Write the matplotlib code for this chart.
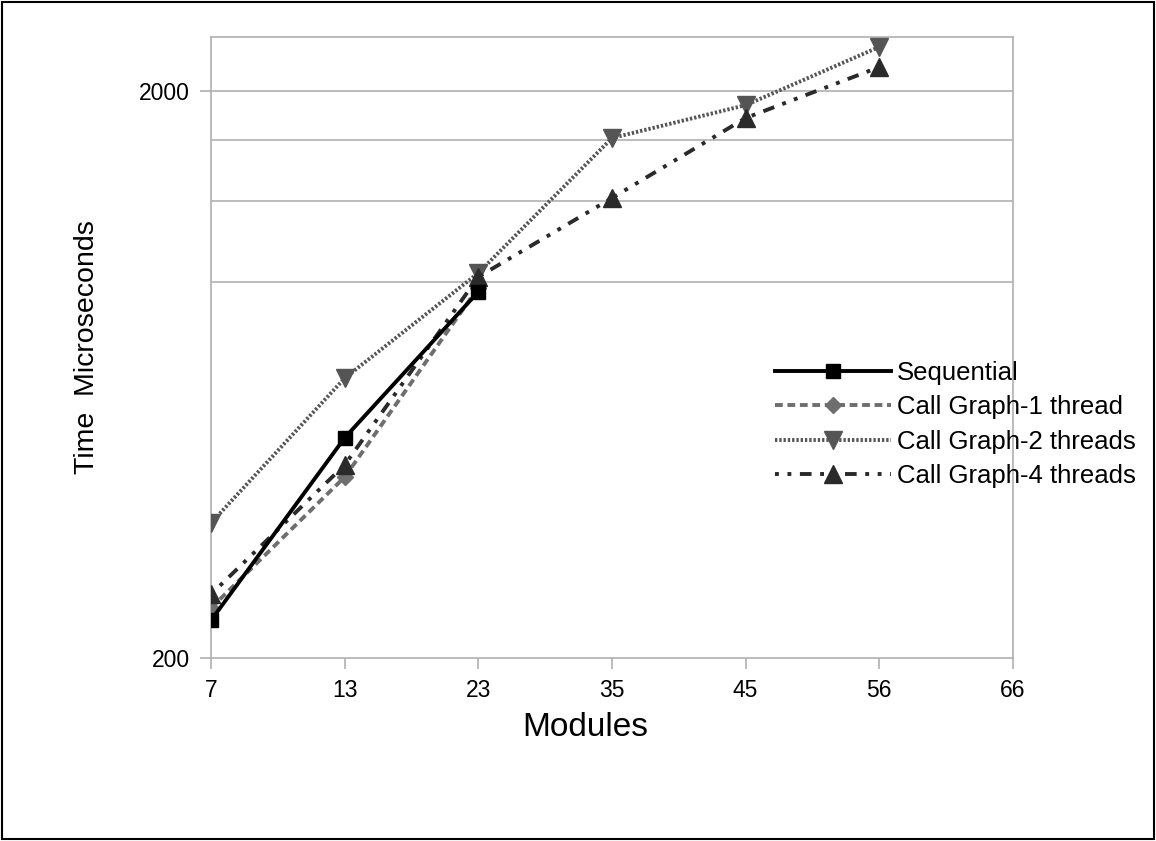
import matplotlib
matplotlib.use("Agg")
import matplotlib.pyplot as plt
from matplotlib.patches import Rectangle
from matplotlib.ticker import FixedLocator, NullFormatter, FixedFormatter
import numpy as np

plt.rcParams['font.family'] = ['Liberation Sans', 'DejaVu Sans']

modules = ['7', '13', '23', '35', '45', '56', '66']
sequential = [233, 489, 885]
cg_1thread = [245, 417, 900]
cg_2threads = [346, 623, 955, 1652, 1888, 2392]
cg_4threads = [259, 438, 940, 1295, 1792, 2204]
labels = ['Sequential', 'Call Graph-1 thread', 'Call Graph-2 threads', 'Call Graph-4 threads']
major_y = [200, 2000]
minor_y = [920, 1280, 1640]

fig = plt.figure(figsize=(11.56, 8.41), dpi=100)
ax = fig.add_axes([211/1156, 1-658/841, (1013-211)/1156, (658-37)/841])

x = np.arange(len(modules))
grid_c = '#b0b0b0'

ax.plot(x[:len(sequential)], sequential, color='black', lw=2.8, marker='s',
        markersize=10, label=labels[0], zorder=5)
ax.plot(x[:len(cg_1thread)], cg_1thread, color='#6e6e6e', lw=2.8, marker='D',
        markersize=8, linestyle=(0, (2, 1.2)), label=labels[1], zorder=4)
ax.plot(x[:len(cg_2threads)], cg_2threads, color='#555555', lw=2.8, marker='v',
        markersize=13, linestyle=(0, (0.6, 0.5)), label=labels[2], zorder=3)
ax.plot(x[:len(cg_4threads)], cg_4threads, color='#2a2a2a', lw=2.8, marker='^',
        markersize=13, linestyle=(0, (1, 2.2, 1, 2.2, 3, 2.2)), label=labels[3], zorder=4)

ax.set_yscale('log')
ax.set_ylim(200, 2490)
ax.set_xlim(0, len(modules)-1)
ax.yaxis.set_major_locator(FixedLocator(major_y))
ax.yaxis.set_major_formatter(FixedFormatter([str(v) for v in major_y]))
ax.yaxis.set_minor_locator(FixedLocator(minor_y))
ax.yaxis.set_minor_formatter(NullFormatter())
ax.set_xticks(x)
ax.set_xticklabels(modules)

for v in major_y[1:] + minor_y:
    ax.axhline(v, color=grid_c, lw=1.2, zorder=1)

for s in ax.spines.values():
    s.set_color(grid_c)
    s.set_linewidth(1.2)
ax.tick_params(axis='both', which='major', colors=grid_c, labelcolor='black',
               length=8, width=1.2)
ax.tick_params(axis='y', which='major', labelsize=16.5, pad=7)
ax.tick_params(axis='x', which='major', labelsize=16.5, pad=7)
ax.tick_params(axis='y', which='minor', length=0)

ax.set_xlabel('Modules', fontsize=24)
ax.xaxis.set_label_coords((585-211)/802, -(728-658)/621, transform=ax.transAxes)
ax.xaxis.label.set_va('center')
ax.set_ylabel('Time  Microseconds', fontsize=20.5, labelpad=28)

leg = fig.legend(loc='upper left', bbox_to_anchor=(775/1156, 1-361/841),
                 bbox_transform=fig.transFigure, frameon=False, fontsize=18.5,
                 handlelength=4.5, handletextpad=0.25, labelspacing=0.4,
                 borderaxespad=0, borderpad=0)

fig.patches.append(Rectangle((0.002, 0.002), 0.996, 0.996, transform=fig.transFigure,
                             fill=False, edgecolor='black', lw=1.5))

fig.savefig('out.png', dpi=100)
